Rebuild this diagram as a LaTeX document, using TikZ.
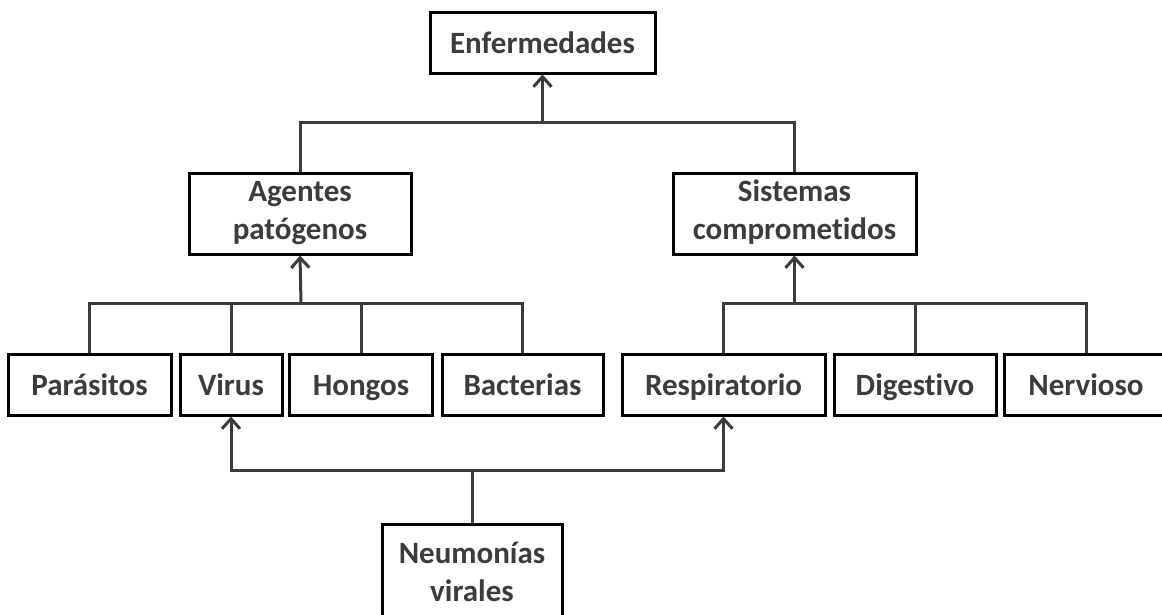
\documentclass[tikz,border=0pt]{standalone}
\usepackage{fontspec}
\setmainfont{Carlito}[RawFeature=-liga]
\usetikzlibrary{arrows.meta}
\definecolor{ink}{HTML}{3C3C3C}
\tikzset{
  box/.style={draw=black, line width=3pt, fill=white, text=ink, align=center,
    inner sep=0pt, font=\fontsize{31}{38}\selectfont\bfseries,
    execute at begin node=\rule{0pt}{29pt},
    execute at end node=\rule[-7pt]{0pt}{7pt}},
  link/.style={draw=ink, line width=3pt},
  up/.style={link, -{Straight Barb[length=10pt,width=18pt]}}
}
\begin{document}
\begin{tikzpicture}[x=1pt, y=-1pt]
\useasboundingbox (0,0) rectangle (1162,614);

% top level
\node[box, minimum width=225pt, minimum height=61pt] (enf) at (542.5,42.5) {Enfermedades};

% second level
\node[box, minimum width=222pt, minimum height=81pt] (agentes) at (300,213.5) {Agentes\\pat\'ogenos};
\node[box, minimum width=243pt, minimum height=81pt] (sistemas) at (794.5,213.5) {Sistemas\\comprometidos};

% leaves
\node[box, minimum width=163pt, minimum height=61pt] (parasitos) at (89.5,384.5) {Parásitos};
\node[box, minimum width=102pt, minimum height=61pt] (virus) at (231,384.5) {Virus};
\node[box, minimum width=143pt, minimum height=61pt] (hongos) at (361,384.5) {Hongos};
\node[box, minimum width=161pt, minimum height=61pt] (bacterias) at (522.5,384.5) {Bacterias};
\node[box, minimum width=203pt, minimum height=61pt] (respiratorio) at (723.5,384.5) {Respiratorio};
\node[box, minimum width=162pt, minimum height=61pt] (digestivo) at (915,384.5) {Digestivo};
\node[box, minimum width=164pt, minimum height=61pt] (nervioso) at (1086,384.5) {Nervioso};

% bottom
\node[box, minimum width=180pt, minimum height=102pt] (neumonias) at (472,575) {Neumonías\\virales};

% junctions
\coordinate (j1) at (542.5,122);
\coordinate (j2) at (301,303);
\coordinate (j3) at (794.5,303);
\coordinate (j4) at (472,470);

% Enfermedades
\draw[link] (agentes.north) |- (j1) -| (sistemas.north);
\draw[up] (j1) -- (enf.south);

% Agentes patógenos
\draw[link] (parasitos.north) |- (j2) -| (bacterias.north);
\draw[link] (virus.north) -- (virus.north |- j2);
\draw[link] (hongos.north) -- (hongos.north |- j2);
\draw[up] (j2) -- (agentes.south);

% Sistemas comprometidos
\draw[link] (respiratorio.north) |- (j3) -| (nervioso.north);
\draw[link] (digestivo.north) -- (digestivo.north |- j3);
\draw[up] (j3) -- (sistemas.south);

% Neumonías virales
\draw[link] (neumonias.north) -- (j4);
\draw[up] (j4) -| (virus.south);
\draw[up] (j4) -| (respiratorio.south);
\end{tikzpicture}
\end{document}
